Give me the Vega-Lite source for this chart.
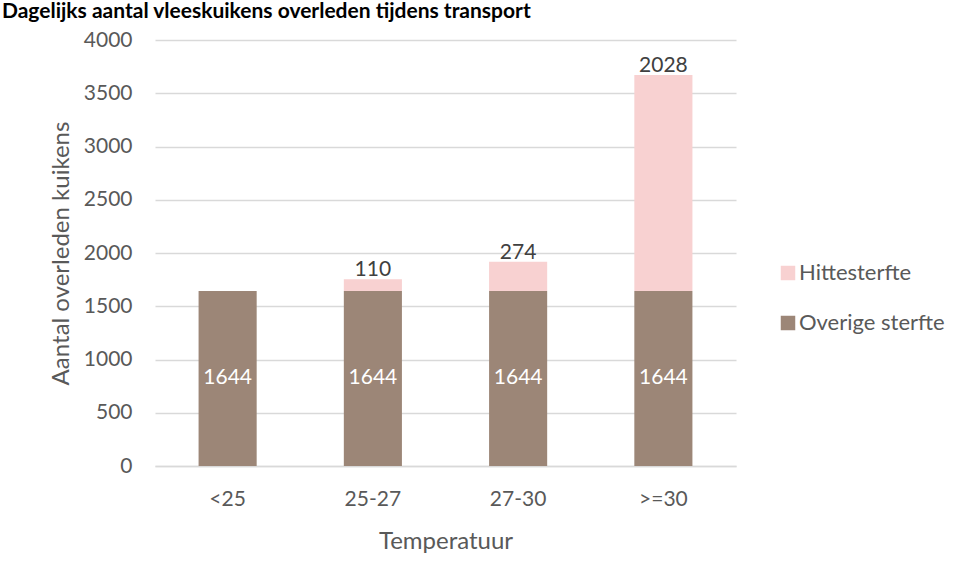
{
  "$schema": "https://vega.github.io/schema/vega-lite/v6.json",
  "width": 581,
  "height": 426,
  "autosize": {"type": "none"},
  "padding": {"top": 40, "left": 155, "right": 222, "bottom": 111},
  "background": "white",
  "title": {
    "text": "Dagelijks aantal vleeskuikens overleden tijdens transport",
    "anchor": "start",
    "frame": "group",
    "dx": -153,
    "offset": 4,
    "dy": 14,
    "baseline": "alphabetic",
    "font": "Lato",
    "fontSize": 21,
    "fontWeight": "bold",
    "color": "#000000"
  },
  "data": {
    "values": [
      {"temp": "<25", "type": "Overige sterfte", "value": 1644},
      {"temp": "25-27", "type": "Overige sterfte", "value": 1644},
      {"temp": "25-27", "type": "Hittesterfte", "value": 110},
      {"temp": "27-30", "type": "Overige sterfte", "value": 1644},
      {"temp": "27-30", "type": "Hittesterfte", "value": 274},
      {"temp": ">=30", "type": "Overige sterfte", "value": 1644},
      {"temp": ">=30", "type": "Hittesterfte", "value": 2028}
    ]
  },
  "config": {
    "view": {"stroke": null},
    "font": "Lato",
    "axis": {"labelFont": "Lato", "titleFont": "Lato", "labelColor": "#595959", "titleColor": "#595959", "titleFontWeight": "normal"},
    "legend": {"labelFont": "Lato"}
  },
  "encoding": {
    "x": {
      "field": "temp",
      "type": "nominal",
      "sort": ["<25", "25-27", "27-30", ">=30"],
      "scale": {"paddingInner": 0.6, "paddingOuter": 0.3},
      "axis": {
        "title": "Temperatuur",
        "labelAngle": 0,
        "labelFontSize": 21,
        "titleFontSize": 24,
        "labelPadding": 22,
        "titlePadding": 20,
        "ticks": false,
        "domainColor": "#D9D9D9",
        "domainWidth": 1.5
      }
    }
  },
  "layer": [
    {
      "mark": {"type": "bar"},
      "encoding": {
        "y": {
          "field": "value",
          "type": "quantitative",
          "stack": "zero",
          "scale": {"domain": [0, 4000]},
          "axis": {
            "title": "Aantal overleden kuikens",
            "values": [0, 500, 1000, 1500, 2000, 2500, 3000, 3500, 4000],
            "format": "d",
            "labelFontSize": 21,
            "titleFontSize": 24,
            "labelPadding": 23,
            "titlePadding": 10,
            "ticks": false,
            "domain": false,
            "gridColor": "#D9D9D9",
            "gridWidth": 1.3
          }
        },
        "color": {
          "field": "type",
          "type": "nominal",
          "scale": {"domain": ["Hittesterfte", "Overige sterfte"], "range": ["#F8D1D1", "#9C8677"]},
          "legend": {
            "title": null,
            "orient": "none",
            "legendX": 622,
            "legendY": 222,
            "symbolType": "square",
            "symbolSize": 210,
            "symbolStrokeWidth": 0,
            "labelFontSize": 22,
            "labelColor": "#595959",
            "labelOffset": 0,
            "rowPadding": 28
          }
        },
        "order": {"field": "type", "sort": "descending"}
      }
    },
    {
      "mark": {"type": "text", "baseline": "alphabetic", "dy": -3, "fontSize": 21, "color": "#404040"},
      "encoding": {
        "y": {"field": "value", "type": "quantitative", "stack": "zero"},
        "order": {"field": "type", "sort": "descending"},
        "text": {"condition": {"test": "datum.type === 'Hittesterfte'", "field": "value"}, "value": ""}
      }
    },
    {
      "transform": [
        {"filter": "datum.type === 'Overige sterfte'"},
        {"calculate": "datum.value / 2", "as": "mid"}
      ],
      "mark": {"type": "text", "baseline": "middle", "fontSize": 21, "color": "#FFFFFF"},
      "encoding": {
        "y": {"field": "mid", "type": "quantitative"},
        "text": {"field": "value", "type": "quantitative"}
      }
    }
  ]
}
